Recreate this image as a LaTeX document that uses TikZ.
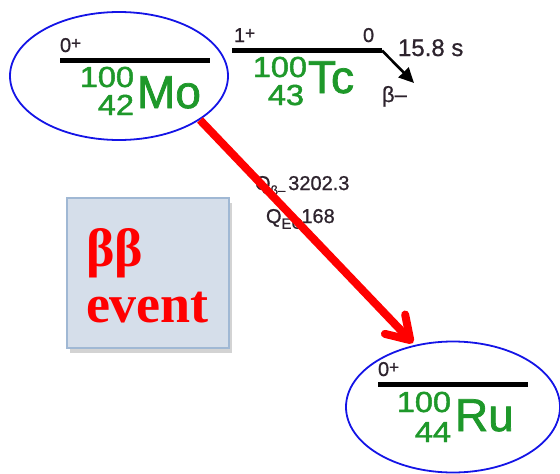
\documentclass[tikz,border=0pt]{standalone}
\usepackage{fontspec}
\setmainfont{Liberation Sans}
\newfontfamily\serifbf{Liberation Serif}
\newfontfamily\nucfont[FakeBold=1.6]{Liberation Sans}
\newfontfamily\labfont[FakeBold=0.8]{Liberation Sans}
\usetikzlibrary{shapes.geometric,arrows.meta,shadows}
\definecolor{nucgreen}{RGB}{30,152,42}
\definecolor{spincol}{RGB}{45,35,45}
\definecolor{boxfill}{RGB}{213,222,234}
\definecolor{boxedge}{RGB}{160,184,212}
\definecolor{ellblue}{RGB}{20,20,230}
\newcommand{\fs}[1]{\fontsize{#1}{#1}\selectfont}
\tikzset{
  x=1pt, y=-1pt,
  every node/.style={inner sep=0pt, outer sep=0pt},
  level/.style={line width=4.5pt, black},
  ringell/.style={ellipse, draw=ellblue, line width=1.8pt},
  spin/.style={text=spincol, font=\labfont\fs{20}},
  mass/.style={text=nucgreen, font=\nucfont\fs{29}, xscale=1.12},
  symb/.style={text=nucgreen, font=\nucfont\fs{46}},
  qlabel/.style={text=spincol, font=\labfont\fs{20}},
  bbarrow/.style={draw=red, line width=8pt,
    -{Straight Barb[length=22pt, width=28pt, round]}},
}
\newcommand{\spinlab}[1]{#1\raisebox{0.3ex}{\fs{17}+}}
\begin{document}
\begin{tikzpicture}
\useasboundingbox (0,0) rectangle (560,474);

% ---- 100Mo ground state ----
\node[ringell, minimum width=218pt, minimum height=128pt] (moell) at (119,76) {};
\coordinate (moL) at (60,60.5);
\coordinate (moR) at (210,60.5);
\draw[level] (moL) -- (moR);
\node[spin, anchor=base west] (mospin) at (60,52) {\spinlab{0}};
\node[mass, anchor=base east] (moA) at (134,87) {100};
\node[mass, anchor=base east] (moZ) at (134,115) {42};
\node[symb, anchor=base west] (mosym) at (137,108) {Mo};

% ---- 100Tc intermediate state ----
\coordinate (tcL) at (232,50.5);
\coordinate (tcR) at (382,50.5);
\coordinate (tctip) at (414,83);
\draw[level] (tcL) -- (tcR);
\draw[line width=2.6pt, -{Triangle[length=15pt, width=14pt]}] (tcR) -- (tctip);
\node[spin, anchor=base west] (tcspin) at (234,42) {\spinlab{1}};
\node[spin, anchor=base west] (tclev) at (363,42) {0};
\node[spin, font=\labfont\fs{24}, anchor=base west] (tchalf) at (398,56) {15.8 s};
\node[spin, font=\labfont\fs{22}, anchor=base west] (tcbeta) at (382,102) {β–};
\node[mass, anchor=base east] (tcA) at (307,77) {100};
\node[mass, anchor=base east] (tcZ) at (304,105) {43};
\node[symb, anchor=base west] (tcsym) at (308,93) {Tc};

% ---- Q values ----
\node[qlabel, anchor=base west] (qbeta) at (255,190)
  {Q\raisebox{-0.45ex}{\fs{13}β–}\kern3pt 3202.3};
\node[qlabel, anchor=base west] (qec) at (266,223)
  {Q\raisebox{-0.55ex}{\fs{15}EC}\kern-1pt 168};

% ---- event box ----
\node[draw=boxedge, fill=boxfill, line width=1.5pt,
      minimum width=162pt, minimum height=150pt, anchor=north west,
      drop shadow={shadow xshift=3pt, shadow yshift=-5pt, opacity=0.35, fill=gray}]
      (evbox) at (67,198) {};
\node[text=red, font=\serifbf\bfseries\fs{54}, anchor=base west] (evbb) at (86,266) {ββ};
\node[text=red, font=\serifbf\bfseries\fs{54}, anchor=base west] (evtxt) at (86,322) {event};

% ---- 100Ru final state ----
\node[ringell, minimum width=214pt, minimum height=131pt] (ruell) at (453,407) {};
\coordinate (ruL) at (378,384.5);
\coordinate (ruR) at (528,384.5);
\draw[level] (ruL) -- (ruR);
\node[spin, anchor=base west] (ruspin) at (378,376) {\spinlab{0}};
\node[mass, anchor=base east] (ruA) at (451,412) {100};
\node[mass, anchor=base east] (ruZ) at (451,442) {44};
\node[symb, anchor=base west] (rusym) at (455,431) {Ru};

% ---- double-beta transition ----
\coordinate (bbstart) at (200,120);
\coordinate (bbend) at (413,343);
\draw[bbarrow] (bbstart) -- (bbend);
\end{tikzpicture}
\end{document}
